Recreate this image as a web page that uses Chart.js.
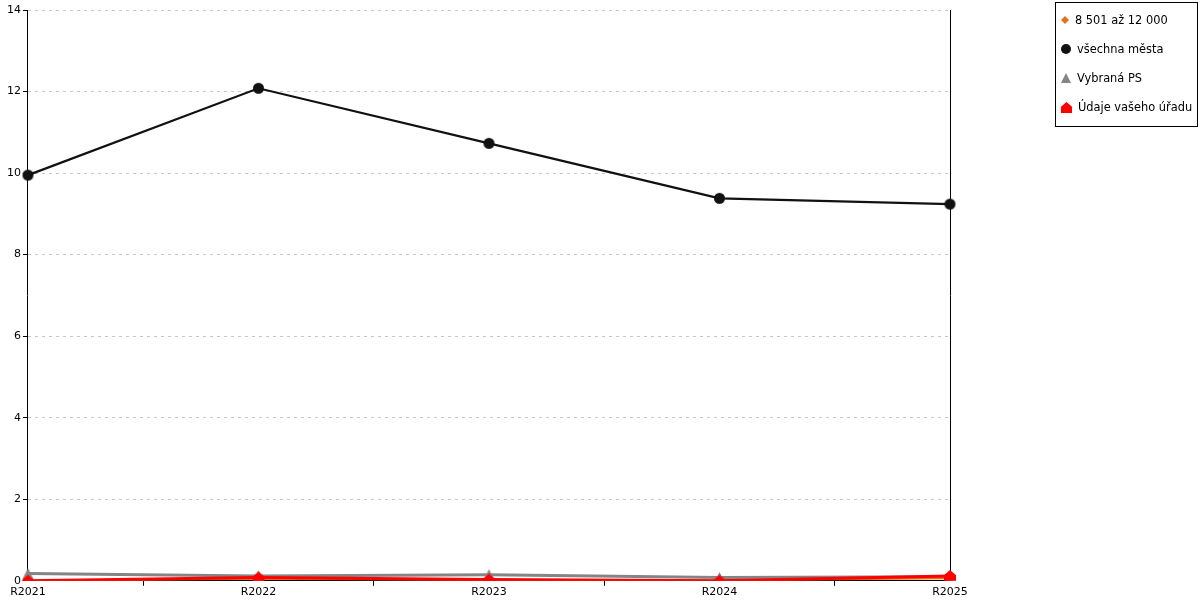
<!DOCTYPE html>
<html>
<head>
<meta charset="utf-8">
<script src="https://cdn.jsdelivr.net/npm/chart.js@4"></script>
<style>
  body { margin: 0; background: #fff; font-family: "DejaVu Sans", sans-serif; }
  #wrap { position: relative; width: 1200px; height: 600px; }
  #legend { position: absolute; left: 1055px; top: 2px; width: 143px; height: 125px;
    border: 1px solid #000; box-sizing: border-box; font-size: 11.4px; color: #000; }
  .item { position: absolute; left: 4px; height: 14px; display: flex; align-items: center; white-space: nowrap; }
  .item canvas { margin-right: 5px; }
</style>
</head>
<body>
<div id="wrap">
  <canvas id="myChart" width="1200" height="600"></canvas>
  <div id="legend"></div>
</div>
<script>
'use strict';

let years = ['R2021', 'R2022', 'R2023', 'R2024', 'R2025'];
let seriesNames = ['8 501 až 12 000', 'všechna města', 'Vybraná PS', 'Údaje vašeho úřadu'];
let skupina = [0, 0.05, 0.02, 0.01, 0.06];
let vsechnaMesta = [9.95, 12.08, 10.73, 9.38, 9.24];
let vybranaPS = [0.18, 0.12, 0.15, 0.08, 0.1];
let vasUrad = [0, 0.08, 0.03, 0, 0.12];
let yTicks = [0, 2, 4, 6, 8, 10, 12, 14];

// marker shapes
function drawShape(ctx, kind, color, s) {
  ctx.fillStyle = color;
  ctx.beginPath();
  let c = s / 2;
  if (kind === 'diamond') {
    ctx.moveTo(c, 1); ctx.lineTo(s - 1, c); ctx.lineTo(c, s - 1); ctx.lineTo(1, c);
  } else if (kind === 'circle') {
    ctx.arc(c, c, c - 1, 0, Math.PI * 2);
  } else if (kind === 'triangle') {
    ctx.moveTo(c, 1); ctx.lineTo(s - 1, s - 1); ctx.lineTo(1, s - 1);
  } else if (kind === 'house') {
    ctx.moveTo(c, 1); ctx.lineTo(s - 1, s * 0.45); ctx.lineTo(s - 1, s - 1);
    ctx.lineTo(1, s - 1); ctx.lineTo(1, s * 0.45);
  }
  ctx.closePath();
  ctx.fill();
}

function markerCanvas(kind, color, s) {
  let cv = document.createElement('canvas');
  cv.width = s; cv.height = s;
  drawShape(cv.getContext('2d'), kind, color, s);
  return cv;
}

let kinds = ['diamond', 'circle', 'triangle', 'house'];
let colors = ['#e4701c', '#111111', '#858585', '#ff0000'];
let pointSizes = [9, 13, 13, 14];
let legendSizes = [10, 12, 12, 13];

let legend = document.getElementById('legend');
for (let i = 0; i < seriesNames.length; i++) {
  let div = document.createElement('div');
  div.className = 'item';
  div.style.top = (10 + i * 29) + 'px';
  let cv = markerCanvas(kinds[i], colors[i], legendSizes[i]);
  div.appendChild(cv);
  let span = document.createElement('span');
  span.textContent = seriesNames[i];
  div.appendChild(span);
  legend.appendChild(div);
}

let dataSets = [skupina, vsechnaMesta, vybranaPS, vasUrad];
let widths = [2, 2.2, 3, 3];
let orders = [2, 0, 3, 1];
let datasets = [];
for (let i = 0; i < dataSets.length; i++) {
  datasets.push({
    label: seriesNames[i],
    data: dataSets[i],
    borderColor: colors[i],
    borderWidth: widths[i],
    pointStyle: markerCanvas(kinds[i], colors[i], pointSizes[i]),
    order: orders[i],
    tension: 0
  });
}

let ctx = document.getElementById('myChart').getContext('2d');
Chart.defaults.font.family = '"DejaVu Sans", sans-serif';
Chart.defaults.font.size = 11;
Chart.defaults.color = '#000';

new Chart(ctx, {
  type: 'line',
  data: { labels: years, datasets: datasets },
  options: {
    responsive: false,
    animation: false,
    layout: { padding: { top: 10, right: 250, left: 5, bottom: 1 } },
    plugins: { legend: { display: false }, tooltip: { enabled: false } },
    scales: {
      x: {
        offset: false,
        grid: { offset: true, drawOnChartArea: false, color: '#000', tickLength: 5 },
        border: { color: '#000', width: 1 },
        ticks: { padding: 0, maxRotation: 0 }
      },
      y: {
        min: 0,
        max: 14,
        afterBuildTicks: function (axis) { axis.ticks = yTicks.map(v => ({ value: v })); },
        grid: { color: '#c8c8c8', tickColor: '#000', tickLength: 5 },
        border: { color: '#000', width: 1, dash: [3, 4] },
        ticks: { padding: 2 }
      },
      y2: {
        position: 'right',
        min: 0, max: 14,
        grid: { drawOnChartArea: false, drawTicks: false },
        border: { color: '#000', width: 1 },
        ticks: { display: false }
      }
    }
  }
});
</script>
</body>
</html>
